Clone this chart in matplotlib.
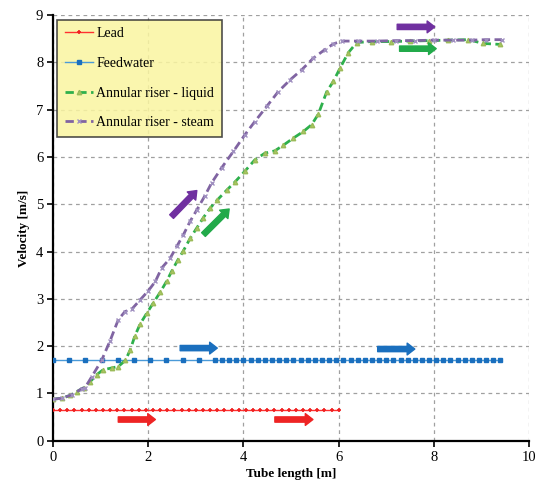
import numpy as np
import matplotlib as mpl
import matplotlib.pyplot as plt

# data
lead_x = [0, 0.15, 0.3, 0.45, 0.6, 0.75, 0.9, 1.05, 1.2, 1.35, 1.5, 1.65, 1.8, 1.95, 2.1, 2.25, 2.4,
          2.55, 2.7, 2.85, 3.0, 3.15, 3.3, 3.45, 3.6, 3.75, 3.9, 4.05, 4.2, 4.35, 4.5, 4.65, 4.8,
          4.95, 5.1, 5.25, 5.4, 5.55, 5.7, 5.85, 6.0]
lead_v = [0.65] * len(lead_x)

fw_x = [0, 0.34, 0.68, 1.02, 1.36, 1.70, 2.04, 2.38, 2.72, 3.06, 3.40, 3.55, 3.70, 3.85, 4.00,
        4.15, 4.30, 4.45, 4.60, 4.75, 4.90, 5.05, 5.20, 5.35, 5.50, 5.65, 5.80, 5.95, 6.10,
        6.25, 6.40, 6.55, 6.70, 6.85, 7.00, 7.15, 7.30, 7.45, 7.60, 7.75, 7.90, 8.05, 8.20,
        8.35, 8.50, 8.65, 8.80, 8.95, 9.10, 9.25, 9.40]
fw_v = [1.70] * len(fw_x)

liq_x = [0, 0.18, 0.36, 0.50, 0.64, 0.78, 0.92, 1.05, 1.23, 1.37, 1.52, 1.62, 1.72, 1.83, 1.97,
         2.11, 2.25, 2.39, 2.49, 2.62, 2.74, 2.88, 3.02, 3.16, 3.30, 3.44, 3.65, 3.82, 4.03,
         4.24, 4.45, 4.66, 4.84, 5.05, 5.26, 5.43, 5.57, 5.75, 5.89, 6.03, 6.20, 6.38, 6.70,
         7.10, 7.50, 7.90, 8.30, 8.72, 9.04, 9.39]
liq_v = [0.88, 0.90, 0.96, 1.04, 1.12, 1.25, 1.40, 1.50, 1.54, 1.57, 1.70, 1.92, 2.22, 2.47, 2.70,
         2.92, 3.14, 3.38, 3.58, 3.82, 4.02, 4.28, 4.50, 4.72, 4.92, 5.08, 5.30, 5.47, 5.70,
         5.94, 6.08, 6.13, 6.25, 6.40, 6.54, 6.68, 6.90, 7.38, 7.60, 7.88, 8.20, 8.42, 8.44,
         8.44, 8.45, 8.46, 8.47, 8.48, 8.40, 8.38]

stm_x = [0, 0.18, 0.39, 0.60, 0.67, 0.81, 1.02, 1.20, 1.37, 1.51, 1.66, 1.83, 2.00, 2.15, 2.28,
         2.46, 2.60, 2.74, 2.88, 3.02, 3.19, 3.33, 3.54, 3.79, 4.03, 4.24, 4.49, 4.73, 4.98,
         5.22, 5.47, 5.71, 5.89, 6.06, 6.40, 6.80, 7.20, 7.60, 8.00, 8.40, 8.80, 9.10, 9.43]
stm_v = [0.88, 0.90, 0.97, 1.10, 1.12, 1.35, 1.70, 2.12, 2.56, 2.73, 2.79, 2.98, 3.17, 3.37, 3.65,
         3.86, 4.11, 4.36, 4.64, 4.88, 5.18, 5.45, 5.77, 6.12, 6.47, 6.75, 7.07, 7.38, 7.63,
         7.84, 8.09, 8.27, 8.39, 8.45, 8.45, 8.45, 8.46, 8.46, 8.47, 8.47, 8.47, 8.48, 8.48]

# direction arrows: (x0, y0, x1, y1, colour)
arrows = [(1.37, 0.45, 2.15, 0.45, '#EE2424'),
          (4.66, 0.45, 5.46, 0.45, '#EE2424'),
          (2.67, 1.96, 3.45, 1.96, '#1A6FBE'),
          (6.82, 1.94, 7.60, 1.94, '#1A6FBE'),
          (7.23, 8.75, 8.02, 8.75, '#7030A0'),
          (7.28, 8.29, 8.05, 8.29, '#22AA4A'),
          (2.49, 4.74, 3.02, 5.29, '#7030A0'),
          (3.16, 4.36, 3.70, 4.90, '#22AA4A')]

mpl.rcParams['font.family'] = ['Liberation Serif', 'DejaVu Serif']
mpl.rcParams['font.size'] = 10

fig = plt.figure(figsize=(5.36, 4.86), dpi=100)
ax = fig.add_axes([0.099, 0.093, 0.888, 0.876])

ax.plot(lead_x, lead_v, color='#FF3030', lw=1.0, marker='+', ms=3.2, mew=1.2,
        mec='#F02020', label='Lead', zorder=3)
ax.plot(fw_x, fw_v, color='#4A9AD8', lw=1.0, marker='s', ms=3.5, mfc='#1A6FBE',
        mec='#1A6FBE', label='Feedwater', zorder=3)
ax.plot(liq_x, liq_v, color='#2EB04C', lw=2.0, ls=(0, (3, 1.6)), marker='^', ms=3.2,
        mfc='#A8C860', mec='#9BBB59', label='Annular riser - liquid', zorder=4)
ax.plot(stm_x, stm_v, color='#8064A2', lw=2.0, ls=(0, (3, 1.6)), marker='x', ms=3.2,
        mew=1.0, mec='#A090C0', label='Annular riser - steam', zorder=5)

for x0, y0, x1, y1, c in arrows:
    ax.annotate('', xy=(x1, y1), xytext=(x0, y0),
                arrowprops=dict(arrowstyle='simple,head_length=0.55,head_width=0.85,tail_width=0.38',
                                color=c, shrinkA=0, shrinkB=0), zorder=6)

ax.set_xlim(0, 10)
ax.set_ylim(0, 9)
ax.set_xticks(range(0, 11, 2))
ax.set_yticks(range(0, 10))
ax.grid(True, ls=(0, (3, 3)), color='#A0A0A0', lw=0.9)
ax.set_axisbelow(True)
for s in ['top', 'right']:
    ax.spines[s].set_visible(False)
for s in ['left', 'bottom']:
    ax.spines[s].set_linewidth(1.6)
ax.tick_params(direction='out', length=4, width=1.2, labelsize=10.5, pad=3)

ax.set_xlabel('Tube length [m]', fontsize=9.5, fontweight='bold', labelpad=3)
ax.set_ylabel('Velocity [m/s]', fontsize=9.5, fontweight='bold', labelpad=4)

leg = ax.legend(loc='upper left', bbox_to_anchor=(0.003, 0.996), fontsize=10,
                labelspacing=1.2, handlelength=2.0, handletextpad=0.25,
                borderpad=0.55, borderaxespad=0.2, fancybox=False, framealpha=0.85,
                facecolor='#FAF5A0', edgecolor='#303030')
leg.get_frame().set_linewidth(1.2)

fig.savefig('out.png', dpi=100)
